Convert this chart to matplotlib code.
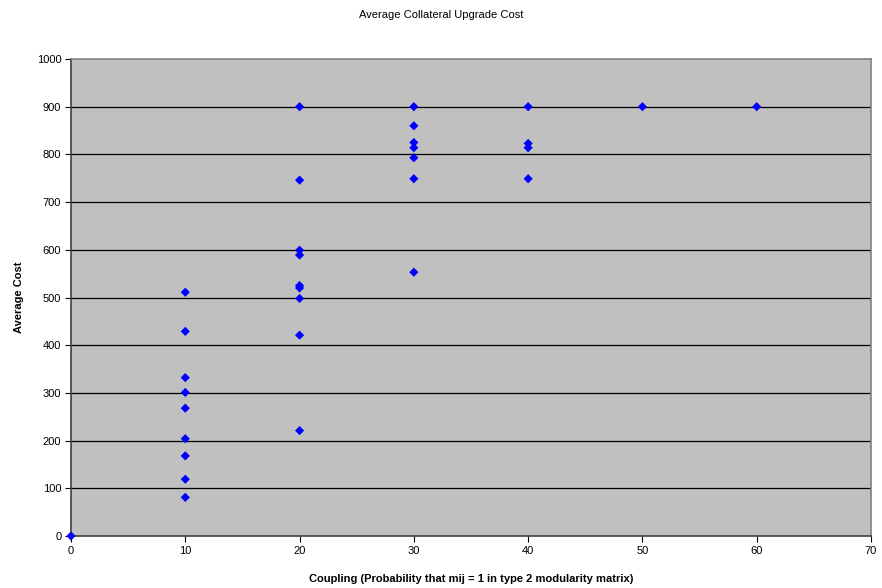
import matplotlib
matplotlib.use("Agg")
import matplotlib.pyplot as plt

plt.rcParams["font.family"] = ["Liberation Sans", "DejaVu Sans"]

# coupling level -> observed average costs
coupling = [0,
            10, 10, 10, 10, 10, 10, 10, 10, 10,
            20, 20, 20, 20, 20, 20, 20, 20, 20,
            30, 30, 30, 30, 30, 30, 30,
            40, 40, 40, 40,
            50, 60]
avg_cost = [0,
            511, 429, 332, 301, 268, 204, 168, 119, 81,
            900, 746, 599, 589, 525, 520, 498, 421, 221,
            900, 860, 825, 814, 793, 749, 553,
            900, 823, 814, 749,
            900, 900]

fig = plt.figure(figsize=(8.82, 5.88), dpi=100)
ax = fig.add_axes([71 / 882, 52 / 588, 800 / 882, 477 / 588])
ax.set_facecolor("#c0c0c0")

ax.scatter(coupling, avg_cost, marker="D", s=22, color="#0000ff",
           edgecolors="none", zorder=3, clip_on=False)

ax.set_xlim(0, 70)
ax.set_ylim(0, 1000)
ax.set_xticks(range(0, 71, 10))
ax.set_yticks(range(0, 1001, 100))
for y in range(100, 1000, 100):
    ax.axhline(y, color="black", lw=0.9, zorder=1)

for side in ("top", "right"):
    ax.spines[side].set_color("#808080")
    ax.spines[side].set_linewidth(1.2)
for side in ("left", "bottom"):
    ax.spines[side].set_color("#404040")
    ax.spines[side].set_linewidth(1.2)

ax.tick_params(labelsize=8, length=4, width=0.8, color="black", pad=3)
ax.set_xlabel("Coupling (Probability that mij = 1 in type 2 modularity matrix)",
              fontsize=8, fontweight="bold", labelpad=13)
ax.set_ylabel("Average Cost", fontsize=8, fontweight="bold", labelpad=9)
fig.text(0.5, 1 - 15 / 588, "Average Collateral Upgrade Cost",
         ha="center", va="center", fontsize=8)

fig.savefig("out.png", dpi=100)
